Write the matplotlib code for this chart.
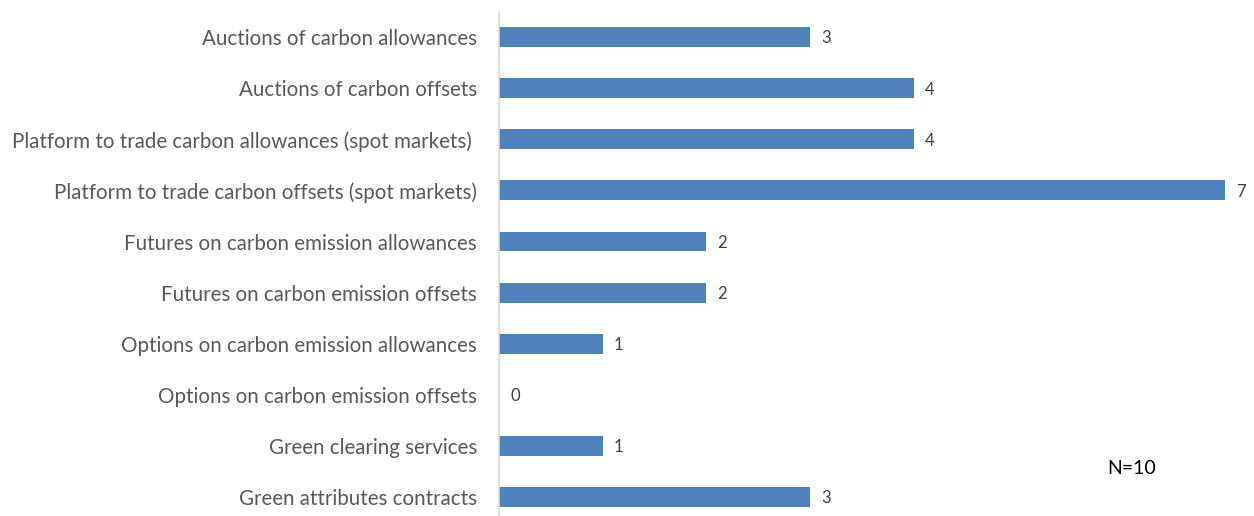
import matplotlib.pyplot as plt

categories = [
    "Auctions of carbon allowances",
    "Auctions of carbon offsets",
    "Platform to trade carbon allowances (spot markets) ",
    "Platform to trade carbon offsets (spot markets)",
    "Futures on carbon emission allowances",
    "Futures on carbon emission offsets",
    "Options on carbon emission allowances",
    "Options on carbon emission offsets",
    "Green clearing services",
    "Green attributes contracts",
]
counts = [3, 4, 4, 7, 2, 2, 1, 0, 1, 3]
note = "N=10"

plt.rcParams['font.family'] = ['Lato', 'DejaVu Sans']

W, H = 1254, 516
fig = plt.figure(figsize=(W / 100, H / 100), dpi=100)
ax = fig.add_axes([499 / W, 0, 1 - 499 / W, 504 / H])

pos = list(range(len(categories)))
bars = ax.barh(pos, counts, height=0.39, color="#4F81BD")

ax.set_ylim(9.37, -0.49)
ax.set_xlim(0, 7.28)
ax.set_yticks(pos)
ax.set_yticklabels(categories, fontsize=14.8, color="#595959")
ax.tick_params(axis="y", length=0, pad=16)
ax.set_xticks([])

for s in ["top", "right", "bottom"]:
    ax.spines[s].set_visible(False)
ax.spines["left"].set_color("#D9D9D9")
ax.spines["left"].set_linewidth(1.2)

for b, v in zip(bars, counts):
    ax.annotate(str(v), (b.get_width(), b.get_y() + b.get_height() / 2),
                xytext=(8, -1), textcoords="offset points",
                ha="left", va="center", fontsize=12, color="#404040")

fig.text(1132 / W, 1 - 468 / H, note, ha="center", va="center",
         fontsize=14, color="black")

fig.savefig("out.png", dpi=100)
